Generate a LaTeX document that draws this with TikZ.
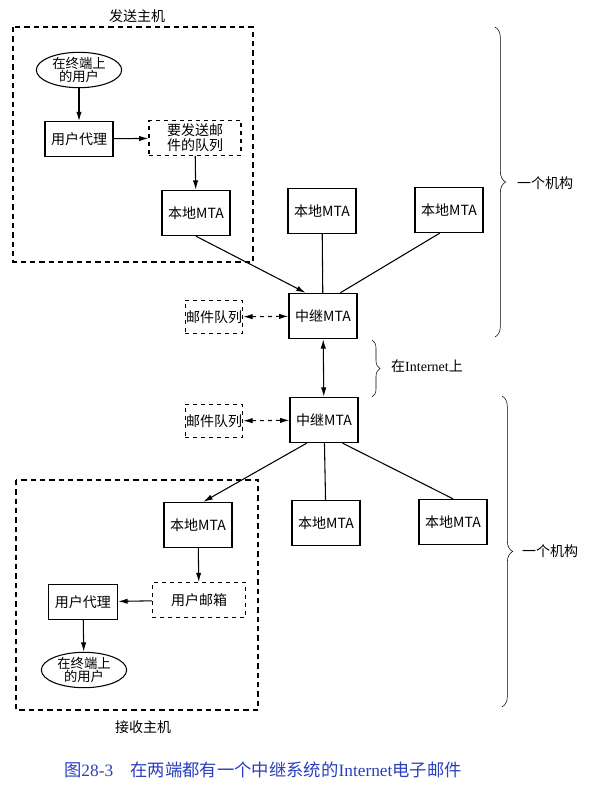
\documentclass[tikz,border=0pt]{standalone}
\usepackage{fontspec}
\setmainfont{Liberation Serif}
\newfontfamily\cjk{Noto Sans CJK SC}
\usetikzlibrary{arrows.meta,shapes.geometric,decorations.pathreplacing}
\definecolor{capblue}{HTML}{2a3fc0}

\begin{document}
\begin{tikzpicture}[x=0.75pt,y=-0.75pt,every node/.style={font=\cjk\fontsize{10.5}{11.5}\selectfont,align=center},
  box/.style={draw,thick,inner sep=0pt,minimum width=51pt,minimum height=34pt},
  qbox/.style={draw,thick,dashed,inner sep=0pt},
  user/.style={draw,thick,ellipse,inner sep=0pt,minimum width=64pt,minimum height=25pt,font=\cjk\fontsize{10}{9.5}\selectfont},
  host/.style={thick,dash pattern=on 4pt off 3pt},
  every path/.style={thick},
  >={Latex[length=7pt,width=4pt]}]
  \useasboundingbox (0,0) rectangle (615,786);

  % sending host
  \draw[host] (13,27) rectangle (253,262);
  \node at (137,16) {发送主机};
  \node[user] (su) at (79,70) {在终端上\\的用户};
  \node[box,minimum width=51pt,minimum height=26pt] (sua) at (79,139) {用户代理};
  \node[qbox,minimum width=69pt,minimum height=26pt] (sq) at (195,138) {要发送邮\\件的队列};
  \node[box] (m1) at (196,213) {本地MTA};
  \node[box] (m2) at (322,211) {本地MTA};
  \node[box] (m3) at (449,210) {本地MTA};

  % relays
  \node[box] (r1) at (323,316) {中继MTA};
  \node[box] (r2) at (324,420) {中继MTA};
  \node[qbox,minimum width=43pt,minimum height=25pt] (q1) at (214,317) {邮件队列};
  \node[qbox,minimum width=43pt,minimum height=25pt] (q2) at (214,421) {邮件队列};

  % receiving host
  \draw[host] (16,480) rectangle (258,710);
  \node at (143,727) {接收主机};
  \node[box] (n1) at (198,525) {本地MTA};
  \node[box] (n2) at (326,523) {本地MTA};
  \node[box] (n3) at (453,522) {本地MTA};
  \node[qbox,minimum width=70pt,minimum height=26pt] (rb) at (199,600) {用户邮箱};
  \node[box,minimum width=52pt,minimum height=26pt] (rua) at (83,602) {用户代理};
  \node[user] (ru) at (84,670) {在终端上\\的用户};

  \draw[->] (su) -- (sua);
  \draw[->] (sua) -- (sq);
  \draw[->] (sq) -- (m1);
  \draw[->] (m1.south) -- ([xshift=-13pt]r1.north);
  \draw (m2) -- (r1);
  \draw ([xshift=-7pt]m3.south) -- ([xshift=13pt]r1.north);
  \draw[<->,dashed] (q1) -- (r1);
  \draw[<->] (r1) -- (r2);
  \draw[<->,dashed] (q2) -- (r2);
  \draw[->] ([xshift=-13pt]r2.south) -- ([xshift=4pt]n1.north);
  \draw (r2) -- (n2);
  \draw ([xshift=14pt]r2.south) -- (n3.north);
  \draw[->] (n1) -- (rb);
  \draw[->] (rb) -- (rua);
  \draw[->] (rua) -- (ru);

  % braces
  \draw[thin,decorate,decoration={brace,amplitude=8pt}] (495,27) -- (495,337);
  \node at (545,183) {一个机构};
  \draw[thin,decorate,decoration={brace,amplitude=6pt}] (372,340) -- (372,397);
  \node at (427,366) {在{\rmfamily Internet}上};
  \draw[thin,decorate,decoration={brace,amplitude=8pt}] (502,396) -- (502,707);
  \node at (550,551) {一个机构};

  \node[text=capblue,font=\cjk\fontsize{13}{14}\selectfont] at (263,770) {图{\rmfamily 28-3}\quad 在两端都有一个中继系统的{\rmfamily Internet}电子邮件};
\end{tikzpicture}
\end{document}
